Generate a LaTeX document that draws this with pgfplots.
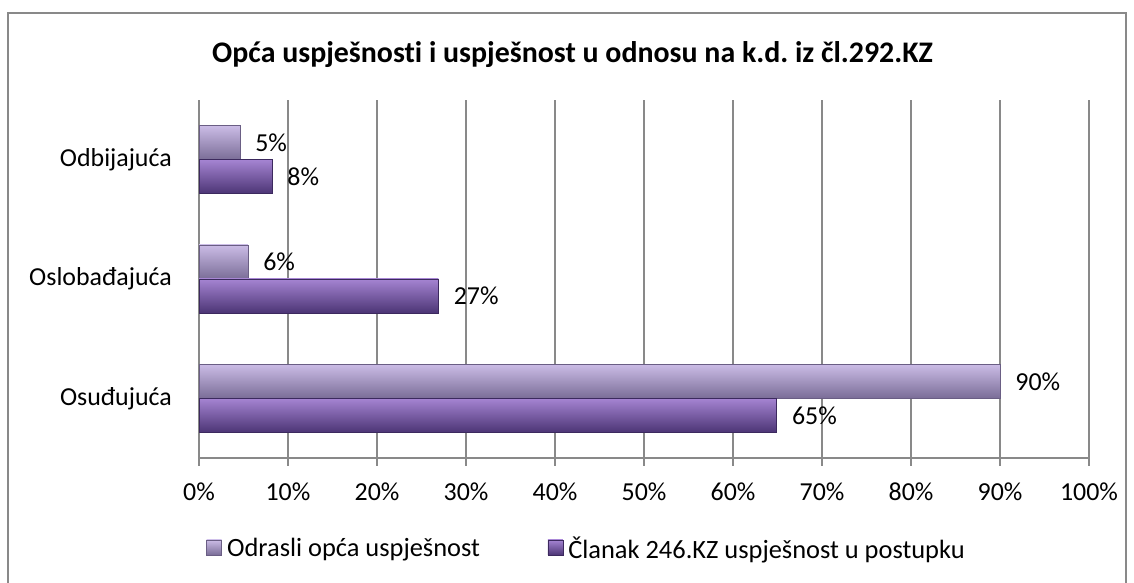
\documentclass[border=0pt]{standalone}
\usepackage{pgfplots}
\pgfplotsset{compat=1.18}
\usepackage{fontspec}
\setmainfont{Carlito}[Ligatures={TeX,NoCommon}]
\frenchspacing
\definecolor{gridgray}{HTML}{898989}
\definecolor{lighttop}{HTML}{CBBCE6}
\definecolor{lightmid}{HTML}{A191C2}
\definecolor{lightbot}{HTML}{7A6D97}
\definecolor{lightedge}{HTML}{6A5E84}
\definecolor{darktop}{HTML}{A584D2}
\definecolor{darkmid}{HTML}{6F4FA2}
\definecolor{darkbot}{HTML}{4C3575}
\definecolor{darkedge}{HTML}{3C295E}
\pgfplotsset{
  lightbar/.style={bar shift=17bp, draw=lightedge, line width=0.8bp, top color=lighttop, middle color=lightmid, bottom color=lightbot},
  darkbar/.style={bar shift=-17bp, draw=darkedge, line width=0.8bp, top color=darktop, middle color=darkmid, bottom color=darkbot},
}
\begin{document}
\begin{tikzpicture}[x=1bp,y=1bp]
\useasboundingbox (0,0) rectangle (1134,583);
\fill[white] (0,0) rectangle (1134,583);
\draw[gridgray, line width=1.5bp] (8,-10) rectangle (1126,570);
\node[font=\fontsize{30}{36}\selectfont\bfseries, anchor=base] at (572.5,520) {Opća uspješnosti i uspješnost u odnosu na k.d. iz čl.292.KZ};
\begin{axis}[
  at={(199bp,125bp)}, anchor=south west, scale only axis,
  width=890bp, height=358bp,
  xbar, bar width=34bp,
  xmin=0, xmax=100, ymin=-0.5, ymax=2.5,
  axis x line*=bottom, axis y line*=left,
  axis line style={draw=gridgray, line width=1.5bp, -},
  xtick={0,10,...,100},
  xticklabel={\pgfmathprintnumber{\tick}\%},
  /pgf/number format/assume math mode=true,
  ytick={0,1,2}, yticklabels={Osuđujuća,Oslobađajuća,Odbijajuća},
  tick align=outside, major tick length=8bp,
  x tick style={draw=gridgray, line width=1.5bp},
  y tick style={draw=none},
  extra y ticks={-0.5,0.5,1.5,2.5}, extra y tick labels={},
  extra y tick style={tick style={draw=gridgray, line width=1.5bp}},
  xmajorgrids, grid style={draw=gridgray, line width=1.5bp},
  ticklabel style={font=\fontsize{26}{31}\selectfont, inner sep=0pt},
  xticklabel style={anchor=north, yshift=-17bp},
  yticklabel style={anchor=east, xshift=-19bp},
  nodes near coords={\pgfmathprintnumber[fixed,precision=0]{\pgfplotspointmeta}\%},
  point meta=x,
  every node near coord/.append style={anchor=west, inner sep=0pt, xshift=15bp, font=\fontsize{26}{31}\selectfont, text=black},
  legend columns=2,
  legend style={at={(0.008,-0.2514)}, anchor=west, draw=none, fill=none, inner sep=0pt,
    font=\fontsize{26.5}{31}\selectfont,
    nodes={inner sep=1.5bp},
    /tikz/every odd column/.append style={column sep=3.5bp},
    /tikz/every even column/.append style={column sep=66bp}},
  legend image code/.code={\draw[#1] (0bp,-7bp) rectangle (15bp,8bp);},
]
\addlegendimage{lightbar}
\addlegendentry{Odrasli opća uspješnost}
\addlegendimage{darkbar}
\addlegendentry{Članak 246.KZ uspješnost u postupku}
% Odrasli opća uspješnost
\addplot[lightbar, forget plot] coordinates {(90,0)};
\addplot[lightbar, forget plot] coordinates {(5.5,1)};
\addplot[lightbar, forget plot] coordinates {(4.6,2)};
% Članak 246.KZ uspješnost u postupku
\addplot[darkbar, forget plot] coordinates {(64.9,0)};
\addplot[darkbar, forget plot] coordinates {(26.9,1)};
\addplot[darkbar, forget plot] coordinates {(8.2,2)};
\end{axis}
\end{tikzpicture}
\end{document}
